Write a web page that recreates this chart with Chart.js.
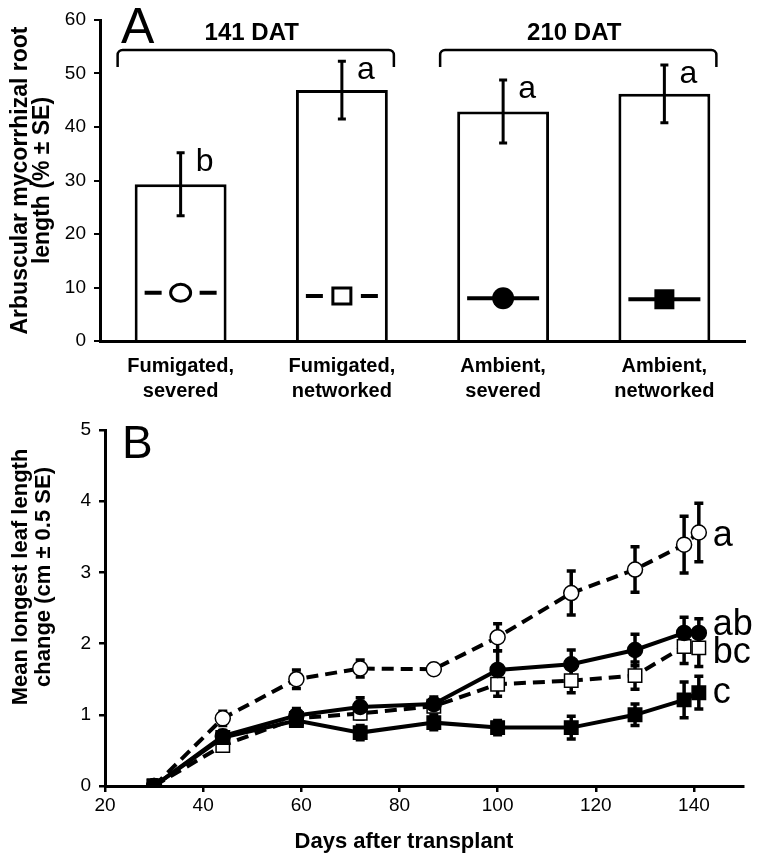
<!DOCTYPE html>
<html>
<head>
<meta charset="utf-8">
<title>Root colonisation and leaf growth</title>
<script src="https://cdn.jsdelivr.net/npm/chart.js@4.4.1/dist/chart.umd.min.js"></script>
<style>
  body { margin: 0; background: #fff; }
  canvas { display: block; }
</style>
</head>
<body>
<canvas id="rootLength" width="759" height="410"></canvas>
<canvas id="leafLength" width="759" height="449"></canvas>
<script>
// ---- panel A data ----
var treatments = [['Fumigated,', 'severed'], ['Fumigated,', 'networked'], ['Ambient,', 'severed'], ['Ambient,', 'networked']];
var rootLength = [29.3, 46.9, 42.9, 46.2];
var rootLengthSE = [5.9, 5.4, 5.9, 5.4];
var rootLetters = ['b', 'a', 'a', 'a'];
var rootTicks = [0, 10, 20, 30, 40, 50, 60];
var harvests = ['141 DAT', '210 DAT'];
var harvestGroups = [[0, 1], [2, 3]];
var keySymbols = ['openCircle', 'openSquare', 'filledCircle', 'filledSquare'];
var keyLevel = [9, 8.4, 8, 7.8];

// ---- panel B data ----
var days = [30, 44, 59, 72, 87, 100, 115, 128, 138, 141];
var dayTicks = [20, 40, 60, 80, 100, 120, 140];
var leafTicks = [0, 1, 2, 3, 4, 5];
var fumSevered = [0, 0.95, 1.50, 1.65, 1.64, 2.09, 2.71, 3.04, 3.39, 3.56];
var fumSeveredSE = [0, 0.10, 0.13, 0.12, 0.07, 0.19, 0.31, 0.32, 0.40, 0.41];
var fumNetworked = [0, 0.57, 0.95, 1.02, 1.12, 1.43, 1.48, 1.55, 1.96, 1.94];
var fumNetworkedSE = [0, 0.05, 0.08, 0.08, 0.08, 0.17, 0.17, 0.19, 0.24, 0.26];
var ambSevered = [0, 0.70, 0.99, 1.11, 1.15, 1.63, 1.71, 1.91, 2.15, 2.15];
var ambSeveredSE = [0, 0.08, 0.10, 0.13, 0.10, 0.27, 0.20, 0.22, 0.22, 0.20];
var ambNetworked = [0, 0.68, 0.92, 0.75, 0.89, 0.82, 0.82, 1.00, 1.21, 1.31];
var ambNetworkedSE = [0, 0.06, 0.08, 0.10, 0.10, 0.10, 0.16, 0.15, 0.25, 0.23];
var leafLetters = ['a', 'bc', 'ab', 'c'];
var leafYTitle = ['Mean longest leaf length', 'change (cm \u00b1 0.5 SE)'];
var leafXTitle = 'Days after transplant';

var FONT = '"Liberation Sans", Arial, Helvetica, sans-serif';
Chart.defaults.font.family = FONT;
Chart.defaults.color = '#000';

function drawKey(ctx, kind, x, y) {
  var half = 36;
  ctx.save();
  ctx.strokeStyle = '#000';
  ctx.fillStyle = '#000';
  ctx.lineWidth = 4;
  ctx.beginPath();
  if (kind.indexOf('open') === 0) {
    ctx.moveTo(x - half, y); ctx.lineTo(x - half + 17, y);
    ctx.moveTo(x + half - 17, y); ctx.lineTo(x + half, y);
  } else {
    ctx.moveTo(x - half, y); ctx.lineTo(x + half, y);
  }
  ctx.stroke();
  ctx.lineWidth = 3;
  ctx.beginPath();
  if (kind === 'openCircle') {
    ctx.ellipse(x, y, 10, 8.5, 0, 0, Math.PI * 2);
    ctx.fillStyle = '#fff'; ctx.fill(); ctx.stroke();
  } else if (kind === 'openSquare') {
    ctx.rect(x - 9, y - 8, 18, 16);
    ctx.fillStyle = '#fff'; ctx.fill(); ctx.stroke();
  } else if (kind === 'filledCircle') {
    ctx.arc(x, y, 11, 0, Math.PI * 2);
    ctx.fill();
  } else {
    ctx.rect(x - 10, y - 10, 20, 20);
    ctx.fill();
  }
  ctx.restore();
}

var rootExtras = {
  id: 'rootExtras',
  afterDatasetsDraw: function (chart) {
    var ctx = chart.ctx, xs = chart.scales.x, ys = chart.scales.y;
    var meta = chart.getDatasetMeta(0);
    ctx.save();
    ctx.strokeStyle = '#000';
    ctx.fillStyle = '#000';
    meta.data.forEach(function (bar, i) {
      var top = ys.getPixelForValue(rootLength[i] + rootLengthSE[i]);
      var bot = ys.getPixelForValue(rootLength[i] - rootLengthSE[i]);
      ctx.lineWidth = 3;
      ctx.beginPath();
      ctx.moveTo(bar.x, top); ctx.lineTo(bar.x, bot);
      ctx.moveTo(bar.x - 4, top); ctx.lineTo(bar.x + 4, top);
      ctx.moveTo(bar.x - 4, bot); ctx.lineTo(bar.x + 4, bot);
      ctx.stroke();
      ctx.font = '32px ' + FONT;
      ctx.textAlign = 'left';
      ctx.textBaseline = 'alphabetic';
      ctx.fillText(rootLetters[i], bar.x + 15, top + 18);
      drawKey(ctx, keySymbols[i], bar.x, ys.getPixelForValue(keyLevel[i]));
    });
    // harvest brackets
    var yTop = chart.chartArea.top + 30, yEnd = yTop + 17, r = 5;
    ctx.lineWidth = 2.5;
    harvestGroups.forEach(function (g, k) {
      var left = xs.getPixelForValue(g[0]) - 63;
      var right = xs.getPixelForValue(g[1]) + 52;
      ctx.beginPath();
      ctx.moveTo(left, yEnd);
      ctx.arcTo(left, yTop, left + r, yTop, r);
      ctx.arcTo(right, yTop, right, yTop + r, r);
      ctx.lineTo(right, yEnd);
      ctx.stroke();
      ctx.font = 'bold 24px ' + FONT;
      ctx.textAlign = 'center';
      ctx.textBaseline = 'middle';
      ctx.fillText(harvests[k], (left + right) / 2 - 4, yTop - 17);
    });
    ctx.font = '50px ' + FONT;
    ctx.textAlign = 'left';
    ctx.textBaseline = 'alphabetic';
    ctx.fillText('A', chart.chartArea.left + 21, chart.chartArea.top + 23);
    ctx.restore();
  }
};

new Chart(document.getElementById('rootLength'), {
  type: 'bar',
  data: {
    labels: treatments,
    datasets: [{
      data: rootLength,
      backgroundColor: '#fff',
      borderColor: '#000',
      borderWidth: 3,
      categoryPercentage: 1,
      barPercentage: 0.57
    }]
  },
  options: {
    responsive: false,
    animation: false,
    layout: { padding: { top: 20, right: 14, bottom: 0, left: 0 } },
    plugins: { legend: { display: false }, tooltip: { enabled: false } },
    scales: {
      x: {
        grid: { display: false },
        border: { display: true, color: '#000', width: 3 },
        ticks: { font: { size: 20, weight: 'bold', lineHeight: 1.25 }, padding: 5, maxRotation: 0 },
        afterFit: function (s) { s.height = 69; }
      },
      y: {
        min: rootTicks[0],
        max: rootTicks[rootTicks.length - 1],
        ticks: { stepSize: rootTicks[1] - rootTicks[0], font: { size: 19 }, padding: 8 },
        grid: { drawOnChartArea: false, color: '#000', lineWidth: 2, tickLength: 6 },
        border: { display: true, color: '#000', width: 3 },
        title: {
          display: true,
          text: ['Arbuscular mycorrhizal root', 'length (% \u00b1 SE)'],
          font: { size: 23, weight: 'bold', lineHeight: 0.96 },
          padding: { top: 10, bottom: 0 }
        },
        afterFit: function (s) { s.width = 100; }
      }
    }
  },
  plugins: [rootExtras]
});

function points(values) {
  return days.map(function (d, i) { return { x: d, y: values[i] }; });
}

var leafExtras = {
  id: 'leafExtras',
  beforeDatasetsDraw: function (chart) {
    var ctx = chart.ctx, ys = chart.scales.y;
    ctx.save();
    ctx.strokeStyle = '#000';
    ctx.lineWidth = 3.5;
    chart.data.datasets.forEach(function (ds, di) {
      var meta = chart.getDatasetMeta(di);
      meta.data.forEach(function (pt, i) {
        var e = ds.errors[i];
        if (!e) return;
        var top = ys.getPixelForValue(ds.data[i].y + e);
        var bot = ys.getPixelForValue(ds.data[i].y - e);
        ctx.beginPath();
        ctx.moveTo(pt.x, top); ctx.lineTo(pt.x, bot);
        ctx.moveTo(pt.x - 4.5, top); ctx.lineTo(pt.x + 4.5, top);
        ctx.moveTo(pt.x - 4.5, bot); ctx.lineTo(pt.x + 4.5, bot);
        ctx.stroke();
      });
    });
    ctx.restore();
  },
  afterDatasetsDraw: function (chart) {
    var ctx = chart.ctx, area = chart.chartArea;
    ctx.save();
    ctx.fillStyle = '#000';
    ctx.font = '36px ' + FONT;
    ctx.textAlign = 'left';
    ctx.textBaseline = 'middle';
    chart.data.datasets.forEach(function (ds, di) {
      var meta = chart.getDatasetMeta(di);
      var last = meta.data[meta.data.length - 1];
      ctx.fillText(ds.letter, last.x + 14, last.y + ds.letterShift);
    });
    ctx.font = '46px ' + FONT;
    ctx.textBaseline = 'alphabetic';
    ctx.fillText('B', area.left + 17, area.top + 28);
    // axis titles
    ctx.font = 'bold 22px ' + FONT;
    ctx.textAlign = 'center';
    ctx.textBaseline = 'middle';
    ctx.fillText(leafXTitle, (area.left + area.right) / 2 - 20, chart.height - 17);
    ctx.translate(21, (area.top + area.bottom) / 2 - 31);
    ctx.rotate(-Math.PI / 2);
    ctx.fillText(leafYTitle[0], 0, 0);
    ctx.fillText(leafYTitle[1], 0, 23);
    ctx.restore();
  }
};

function series(values, errors, letter, shift, style, dashed, filled, order) {
  return {
    data: points(values),
    errors: errors,
    letter: letter,
    letterShift: shift,
    showLine: true,
    borderColor: '#000',
    borderWidth: 4,
    borderDash: dashed ? [12, 7] : [],
    pointStyle: style,
    pointRadius: style === 'rect' ? 9.5 : 7.5,
    pointBorderWidth: 1.5,
    pointBorderColor: '#000',
    pointBackgroundColor: filled ? '#000' : '#fff',
    order: order
  };
}

new Chart(document.getElementById('leafLength'), {
  type: 'scatter',
  data: {
    datasets: [
      series(fumSevered, fumSeveredSE, leafLetters[0], 4, 'circle', true, false, 3),
      series(fumNetworked, fumNetworkedSE, leafLetters[1], 5, 'rect', true, false, 2),
      series(ambSevered, ambSeveredSE, leafLetters[2], -8, 'circle', false, true, 1),
      series(ambNetworked, ambNetworkedSE, leafLetters[3], 0, 'rect', false, true, 0)
    ]
  },
  options: {
    responsive: false,
    animation: false,
    layout: { padding: { top: 20, right: 16, bottom: 0, left: 0 } },
    plugins: { legend: { display: false }, tooltip: { enabled: false } },
    scales: {
      x: {
        type: 'linear',
        min: dayTicks[0],
        max: 150,
        afterBuildTicks: function (s) { s.ticks = dayTicks.map(function (v) { return { value: v }; }); },
        ticks: { font: { size: 19 }, padding: 2 },
        grid: { drawOnChartArea: false, color: '#000', lineWidth: 2.5, tickLength: 6 },
        border: { display: true, color: '#000', width: 3 },
        afterFit: function (s) { s.height = 73; }
      },
      y: {
        min: leafTicks[0],
        max: leafTicks[leafTicks.length - 1],
        ticks: { stepSize: 1, font: { size: 19 }, padding: 8 },
        grid: { drawOnChartArea: false, color: '#000', lineWidth: 2.5, tickLength: 6 },
        border: { display: true, color: '#000', width: 3 },
        afterFit: function (s) { s.width = 105; }
      }
    }
  },
  plugins: [leafExtras]
});
</script>
</body>
</html>
